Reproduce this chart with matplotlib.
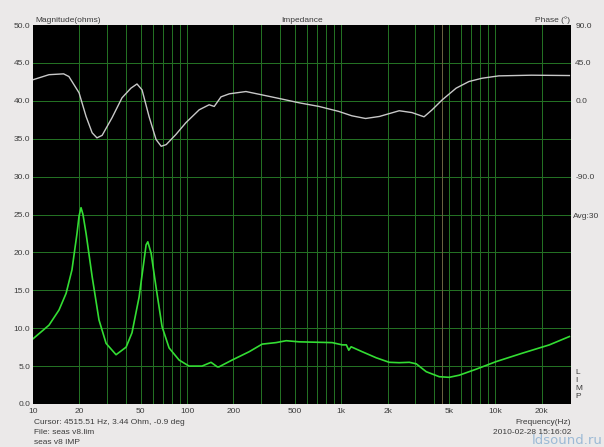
import matplotlib
matplotlib.use("Agg")
import matplotlib.pyplot as plt
from matplotlib.ticker import FixedLocator, NullFormatter

# impedance magnitude (ohm) vs frequency (Hz)
mag_freq = [10, 12.7, 14.75, 16.4, 17.9, 19.3, 19.9, 20.5, 21.1, 22.1, 24.2,
            26.8, 29.8, 34.6, 40.2, 43.9, 48.8, 52.6, 54.2, 55.6, 58.4, 62.9,
            68.8, 76.4, 88.7, 103, 125, 143, 157, 161, 196, 253, 307, 378,
            440, 534, 874, 1015, 1080, 1120, 1160, 1368, 1687, 2050, 2380,
            2770, 3070, 3565, 4330, 5025, 5840, 7530, 10150, 14960, 22430,
            30260]
mag_ohm = [8.6, 10.4, 12.4, 14.6, 17.7, 22.5, 24.8, 25.9, 25.0, 22.5, 16.8,
           11.1, 8.0, 6.5, 7.5, 9.4, 14.1, 19.0, 21.0, 21.4, 19.9, 15.4,
           10.2, 7.4, 5.8, 5.0, 5.0, 5.5, 4.9, 4.9, 5.8, 6.9, 7.9, 8.1,
           8.35, 8.2, 8.1, 7.8, 7.8, 7.1, 7.55, 6.9, 6.1, 5.5, 5.45,
           5.5, 5.3, 4.26, 3.6, 3.52, 3.8, 4.6, 5.6, 6.7, 7.8,
           8.9]

# phase (deg) vs frequency (Hz)
ph_freq = [10, 12.7, 15.8, 17.1, 19.9, 22.1, 24.2, 26.0, 28.1, 32.6, 37.8,
           43.2, 47.3, 51.0, 56.7, 62.9, 67.9, 73.2, 84.6, 98.2, 119.8, 139,
           150, 166, 188, 241, 307, 414, 534, 718, 964, 1172, 1440, 1770,
           2380, 2880, 3450, 3890, 4530, 5570, 6750, 8210, 10540, 17160, 30260]
ph_deg = [25, 31, 32, 28.8, 9.5, -18.6, -38, -44, -41, -20, 3.5,
          15, 20, 13, -19, -46, -54, -52, -40, -26, -10.7, -4.7,
          -6.7, 4.7, 8.3, 11, 7, 2, -2.4, -6.7, -12.6, -17.8, -21, -18.6,
          -11.8, -14, -19, -10.7, 1.2, 15, 22.9, 26.8, 29.6, 30.4, 30]

xtick_vals = [10, 20, 50, 100, 200, 500, 1000, 2000, 5000, 10000, 20000]
xtick_labels = ["10", "20", "50", "100", "200", "500", "1k", "2k", "5k", "10k", "20k"]
mag_ticks = [0, 5, 10, 15, 20, 25, 30, 35, 40, 45, 50]
ph_ticks = [90, 45, 0, -90]
cursor_freq = 4515.51

bg = "#ebe9e9"
txt = "#3c3c3c"
grid_c = "#237023"
plt.rcParams["font.family"] = ["Liberation Sans", "DejaVu Sans"]
fs = 6

fig = plt.figure(figsize=(6.04, 4.47), dpi=100, facecolor=bg)
ax = fig.add_axes([33 / 604, 43 / 447, 538 / 604, 379 / 447])
ax.set_facecolor("black")
ax.set_xscale("log")
ax.set_xlim(10, 31000)
ax.set_ylim(0, 50)

# grid lines
grid_x = []
for dec in [10, 100, 1000, 10000]:
    for m in range(1, 10):
        v = dec * m
        if 10 < v < 25000:
            grid_x.append(v)
for v in grid_x:
    ax.axvline(v, color=grid_c, lw=0.5, zorder=1, antialiased=False)
for v in mag_ticks[1:-1]:
    ax.axhline(v, color=grid_c, lw=0.5, zorder=1, antialiased=False)
ax.axvline(cursor_freq, color="#6a6040", lw=0.7, zorder=1, antialiased=False)

ax.plot(mag_freq, mag_ohm, color="#33dd33", lw=1.2, zorder=3)

ax.xaxis.set_major_locator(FixedLocator(xtick_vals))
ax.xaxis.set_minor_formatter(NullFormatter())
ax.set_xticks(xtick_vals)
ax.set_xticklabels(xtick_labels)
ax.set_yticks(mag_ticks)
ax.set_yticklabels([f"{v:.1f}" for v in mag_ticks])
ax.tick_params(axis="both", which="both", length=0, labelsize=fs, colors=txt, pad=2)
ax.tick_params(axis="x", pad=3)
for s in ax.spines.values():
    s.set_visible(False)

ax2 = ax.twinx()
ax2.set_ylim(-360, 90)
ax2.plot(ph_freq, ph_deg, color="#c8c8c8", lw=1.0, zorder=3)
ax2.set_yticks(ph_ticks)
ax2.set_yticklabels([f"{v:.1f}" for v in ph_ticks])
ax2.tick_params(axis="y", length=0, labelsize=fs, colors=txt, pad=3)
for s in ax2.spines.values():
    s.set_visible(False)


def ftext(x, y, s, **kw):
    kw.setdefault("fontsize", fs)
    kw.setdefault("color", txt)
    fig.text(x / 604, 1 - y / 447, s, va="center", **kw)


ftext(35, 20, "Magnitude(ohms)")
ftext(302, 20, "Impedance", ha="center")
ftext(570, 20, "Phase (°)", ha="right")
ftext(573, 217, "Avg:30")
for i, ch in enumerate("LIMP"):
    ftext(575, 372 + i * 8.2, ch)
ftext(34, 422, "Cursor: 4515.51 Hz, 3.44 Ohm, -0.9 deg")
ftext(34, 433, "File: seas v8.lim")
ftext(34, 442, "seas v8 IMP")
ftext(571, 423, "Frequency(Hz)", ha="right")
ftext(571, 432, "2010-02-28 15:16:02", ha="right")
ftext(603, 441, "ldsound.ru", ha="right", fontsize=9.5, color="#9cbad6",
      family=["DejaVu Sans"])

fig.savefig("out.png", dpi=100, facecolor=bg)
